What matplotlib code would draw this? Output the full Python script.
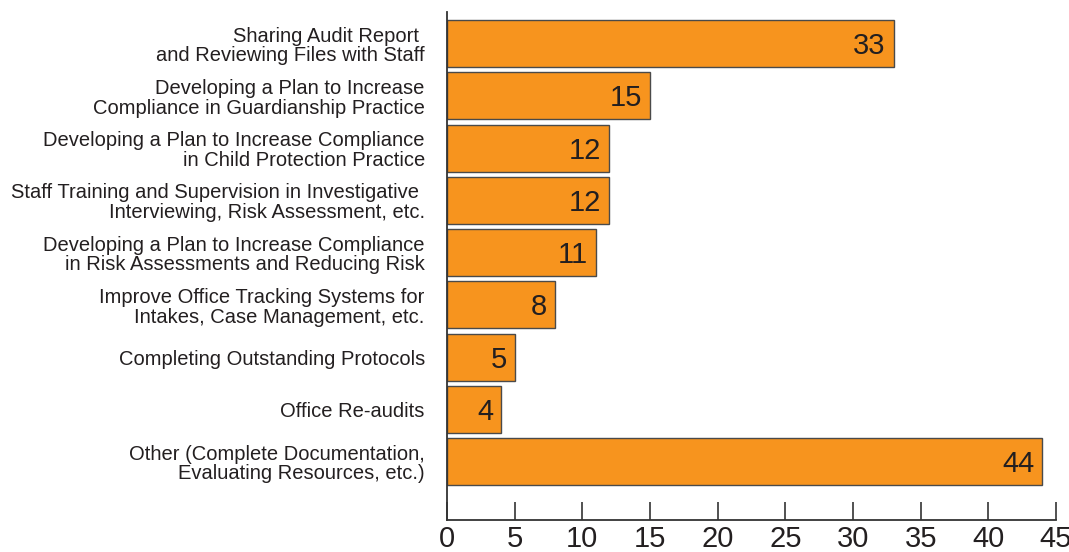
import matplotlib.pyplot as plt

# categories, top to bottom
labels = [
    'Sharing Audit Report \nand Reviewing Files with Staff',
    'Developing a Plan to Increase\nCompliance in Guardianship Practice',
    'Developing a Plan to Increase Compliance\nin Child Protection Practice',
    'Staff Training and Supervision in Investigative \nInterviewing, Risk Assessment, etc.',
    'Developing a Plan to Increase Compliance\nin Risk Assessments and Reducing Risk',
    'Improve Office Tracking Systems for\nIntakes, Case Management, etc.',
    'Completing Outstanding Protocols',
    'Office Re-audits',
    'Other (Complete Documentation,\nEvaluating Resources, etc.)',
]
values = [33, 15, 12, 12, 11, 8, 5, 4, 44]
xticks = [0, 5, 10, 15, 20, 25, 30, 35, 40, 45]

plt.rcParams['font.family'] = ['Liberation Sans', 'DejaVu Sans']
narrow = ['Liberation Sans Narrow', 'Liberation Sans', 'DejaVu Sans']

fig = plt.figure(figsize=(10.69, 5.52), dpi=100)
ax = fig.add_axes([447 / 1069, 1 - 519.6 / 552, (1056 - 447) / 1069, (519.6 - 11.7) / 552])

pos = list(range(len(values)))
ax.barh(pos, values, height=0.9, color='#F7941E', edgecolor='#4a4a4a', linewidth=1.0)

# value labels inside the bar end
for p, v in zip(pos, values):
    ax.text(v - 0.6, p + 0.05, str(v), ha='right', va='center',
            fontsize=21, color='#231f20', family=narrow)

ax.set_xlim(0, 45)
ax.set_ylim(9.11, -0.61)
ax.set_yticks(pos)
ax.set_yticklabels(labels, fontsize=14.5, color='#231f20', linespacing=1.05)
ax.tick_params(axis='y', length=0, pad=16)
ax.set_xticks(xticks)
ax.set_xticklabels([str(t) for t in xticks], fontsize=21, color='#231f20', family=narrow)
ax.tick_params(axis='x', direction='in', length=13, width=1.2, color='#333333', pad=4)

for s in ['top', 'right']:
    ax.spines[s].set_visible(False)
for s in ['left', 'bottom']:
    ax.spines[s].set_color('#333333')
    ax.spines[s].set_linewidth(1.3)

fig.savefig('out.png', dpi=100)
